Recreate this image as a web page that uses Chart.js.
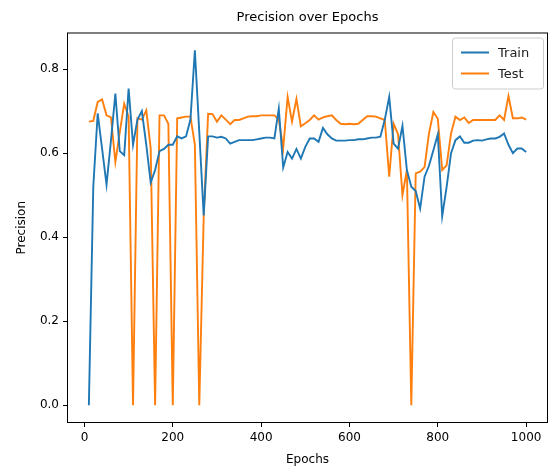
<!DOCTYPE html>
<html>
<head>
<meta charset="utf-8">
<script src="https://cdn.jsdelivr.net/npm/chart.js@4"></script>
<style>
  html, body { margin: 0; padding: 0; background: #fff; }
  #wrap { width: 550px; height: 468px; }
</style>
</head>
<body>
<div id="wrap"><canvas id="precisionChart" width="550" height="468"></canvas></div>
<script>
// epochs 10..1000, one point every 10
const epochs = [10,20,30,40,50,60,70,80,90,100,110,120,130,140,150,160,170,180,190,200,
  210,220,230,240,250,260,270,280,290,300,310,320,330,340,350,360,370,380,390,400,
  410,420,430,440,450,460,470,480,490,500,510,520,530,540,550,560,570,580,590,600,
  610,620,630,640,650,660,670,680,690,700,710,720,730,740,750,760,770,780,790,800,
  810,820,830,840,850,860,870,880,890,900,910,920,930,940,950,960,970,980,990,1000];

const trainPrecision = [0.0,0.52,0.695,0.61,0.525,0.63,0.742,0.605,0.595,0.754,
  0.62,0.68,0.70,0.62,0.53,0.56,0.605,0.61,0.62,0.62,
  0.64,0.635,0.64,0.68,0.845,0.65,0.452,0.64,0.64,0.637,
  0.639,0.635,0.623,0.627,0.631,0.631,0.631,0.631,0.633,0.635,
  0.637,0.637,0.635,0.706,0.566,0.603,0.587,0.61,0.587,0.615,
  0.635,0.635,0.627,0.66,0.645,0.635,0.63,0.63,0.63,0.631,
  0.631,0.633,0.633,0.635,0.637,0.637,0.639,0.68,0.734,0.623,
  0.611,0.665,0.56,0.52,0.51,0.468,0.544,0.57,0.607,0.645,
  0.45,0.52,0.6,0.631,0.64,0.625,0.625,0.63,0.631,0.63,
  0.633,0.635,0.635,0.639,0.647,0.62,0.6,0.611,0.611,0.603];

const testPrecision = [0.675,0.677,0.722,0.728,0.69,0.685,0.579,0.65,0.718,0.687,
  0.0,0.683,0.68,0.702,0.612,0.0,0.69,0.69,0.67,0.0,
  0.683,0.685,0.687,0.687,0.62,0.0,0.45,0.694,0.693,0.675,
  0.69,0.68,0.669,0.679,0.679,0.683,0.687,0.688,0.688,0.69,
  0.69,0.69,0.69,0.68,0.612,0.734,0.675,0.729,0.664,0.671,
  0.679,0.69,0.68,0.685,0.688,0.69,0.679,0.67,0.669,0.67,
  0.669,0.67,0.679,0.688,0.688,0.687,0.683,0.679,0.544,0.67,
  0.645,0.5,0.56,0.0,0.552,0.556,0.567,0.647,0.698,0.682,
  0.56,0.571,0.647,0.687,0.679,0.685,0.672,0.679,0.679,0.679,
  0.679,0.679,0.679,0.69,0.679,0.736,0.683,0.683,0.685,0.68];

const xTicks = [0, 200, 400, 600, 800, 1000];
const yTicks = [0.0, 0.2, 0.4, 0.6, 0.8];

const seriesNames = ['Train', 'Test'];
const seriesColors = ['#1f77b4', '#ff7f0e'];

const FONT = "'DejaVu Sans', sans-serif";

function toPoints(values) {
  return epochs.map((e, i) => ({ x: e, y: values[i] }));
}

// frame round the plot + legend box inside, matplotlib style
const framePlugin = {
  id: 'frame',
  afterDraw(chart) {
    const ctx = chart.ctx;
    const a = chart.chartArea;
    ctx.save();
    ctx.strokeStyle = '#000';
    ctx.lineWidth = 1;
    ctx.strokeRect(a.left + 0.5, a.top + 0.5, a.right - a.left - 1, a.bottom - a.top - 1);

    // legend
    const bx = a.right - 96, by = a.top + 5, bw = 91, bh = 51;
    ctx.fillStyle = 'rgba(255,255,255,0.8)';
    ctx.strokeStyle = '#cccccc';
    ctx.beginPath();
    ctx.roundRect(bx + 0.5, by + 0.5, bw, bh, 3);
    ctx.fill();
    ctx.stroke();
    ctx.font = '13px ' + FONT;
    ctx.textBaseline = 'middle';
    chart.data.datasets.forEach((ds, i) => {
      const y = by + 15 + i * 21;
      ctx.strokeStyle = ds.borderColor;
      ctx.lineWidth = 2;
      ctx.beginPath();
      ctx.moveTo(bx + 9, y);
      ctx.lineTo(bx + 37, y);
      ctx.stroke();
      ctx.fillStyle = '#222';
      ctx.fillText(ds.label, bx + 46, y + 1);
    });
    ctx.restore();
  }
};

new Chart(document.getElementById('precisionChart').getContext('2d'), {
  type: 'line',
  data: {
    datasets: [
      {
        label: seriesNames[0],
        data: toPoints(trainPrecision),
        borderColor: seriesColors[0],
        backgroundColor: seriesColors[0],
        borderWidth: 1.9,
        pointRadius: 0,
        tension: 0
      },
      {
        label: seriesNames[1],
        data: toPoints(testPrecision),
        borderColor: seriesColors[1],
        backgroundColor: seriesColors[1],
        borderWidth: 1.9,
        pointRadius: 0,
        tension: 0
      }
    ]
  },
  options: {
    responsive: false,
    animation: false,
    layout: { padding: { left: 0, right: 2, top: 0, bottom: 0 } },
    plugins: {
      legend: { display: false },
      tooltip: { enabled: false },
      title: {
        display: true,
        text: 'Precision over Epochs',
        fullSize: false,
        color: '#000',
        font: { family: FONT, size: 13, weight: 'normal' },
        padding: { top: 10, bottom: 6.9 }
      }
    },
    scales: {
      x: {
        type: 'linear',
        min: -39.5,
        max: 1049.5,
        afterBuildTicks: scale => { scale.ticks = xTicks.map(v => ({ value: v })); },
        afterFit: scale => { scale.height = 45; },
        grid: { drawOnChartArea: false, color: '#000', tickLength: 4, tickWidth: 1 },
        border: { display: false },
        ticks: { color: '#000', padding: 4, maxRotation: 0, font: { family: FONT, size: 12 },
          callback: v => String(v) },
        title: { display: true, text: 'Epochs', color: '#000',
          font: { family: FONT, size: 12 }, padding: { top: 0, bottom: 1 } }
      },
      y: {
        type: 'linear',
        min: -0.04225,
        max: 0.88725,
        afterBuildTicks: scale => { scale.ticks = yTicks.map(v => ({ value: v })); },
        afterFit: scale => { scale.width = 67; },
        grid: { drawOnChartArea: false, color: '#000', tickLength: 4, tickWidth: 1 },
        border: { display: false },
        ticks: { color: '#000', padding: 4, font: { family: FONT, size: 12 },
          callback: v => Number(v).toFixed(1) },
        title: { display: true, text: 'Precision', color: '#000',
          font: { family: FONT, size: 12 }, padding: { top: 15, bottom: 0 } }
      }
    }
  },
  plugins: [framePlugin]
});
</script>
</body>
</html>
